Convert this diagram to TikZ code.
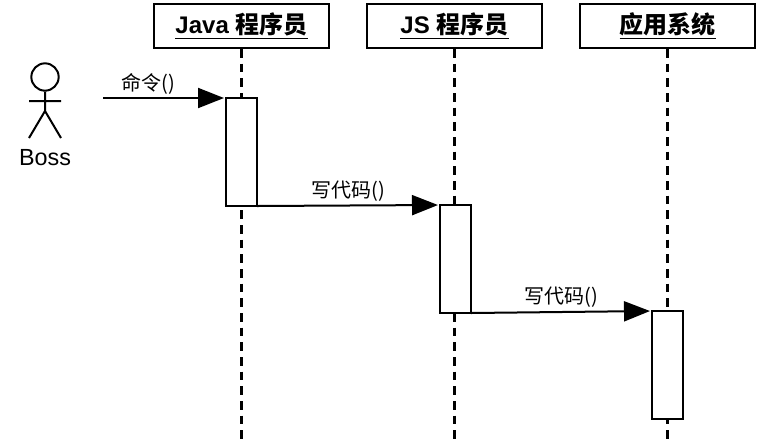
\documentclass[tikz,border=0pt]{standalone}
\usepackage{fontspec}
\setmainfont{Liberation Sans}
\newfontfamily\cjk{Noto Sans CJK SC}
\usetikzlibrary{arrows.meta}
\tikzset{
	role/.style={draw,line width=1.5pt,minimum width=131.25pt,minimum height=33pt,inner sep=0pt,font=\fontsize{18}{20}\selectfont\bfseries},
	bar/.style={draw,fill=white,line width=1.5pt,minimum width=23.25pt,inner sep=0pt,outer sep=0pt},
	call/.style={line width=1.5pt,-{Triangle[length=19.5pt,width=15pt]},shorten >=1.5pt},
	life/.style={line width=1.6pt,dash pattern=on 6.5pt off 4.5pt},
	say/.style={font=\fontsize{15}{17}\selectfont\cjk,inner sep=0pt}
}
\begin{document}
\begin{tikzpicture}[x=0.75pt,y=-0.75pt]
	\useasboundingbox (0,0) rectangle (760,444);
	% the three roles
	\node[role] (java) at (241.5,26) {\underline{Java {\cjk 程序员}}};
	\node[role] (js) at (454.5,26) {\underline{JS {\cjk 程序员}}};
	\node[role] (sys) at (667.5,26) {\underline{\cjk 应用系统}};
	\coordinate (javaend) at (241.5,441);
	\coordinate (jsend) at (454.5,441);
	\coordinate (sysend) at (667.5,441);
	\draw[life] (java.south) -- (javaend);
	\draw[life] (js.south) -- (jsend);
	\draw[life] (sys.south) -- (sysend);
	% boss
	\node[draw,circle,line width=1.5pt,minimum size=20.5pt,inner sep=0pt] (head) at (45,77) {};
	\coordinate (hip) at (45,111);
	\coordinate (armL) at (29,101);
	\coordinate (armR) at (61,101);
	\coordinate (legL) at (29,138);
	\coordinate (legR) at (61,138);
	\draw[line width=1.5pt] (head.south) -- (hip) (armL) -- (armR) (legL) -- (hip) -- (legR);
	\node[inner sep=0pt,font=\fontsize{17.5}{20}\selectfont] (boss) at (45,157.5) {Boss};
	% activations
	\node[bar,minimum height=81pt] (barA) at (241.5,152) {};
	\node[bar,minimum height=81pt] (barB) at (455.5,259) {};
	\node[bar,minimum height=81pt] (barC) at (667.5,365) {};
	% calls
	\coordinate (start) at (103,98);
	\draw[call] (start) -- (barA.north west) node[say,pos=0.37,above=2pt] (msgA) {命令()};
	\draw[call] (barA.south east) -- (barB.north west) node[say,midway,above=2pt] (msgB) {写代码()};
	\draw[call] (barB.south east) -- (barC.north west) node[say,midway,above=2.5pt] (msgC) {写代码()};
\end{tikzpicture}
\end{document}
